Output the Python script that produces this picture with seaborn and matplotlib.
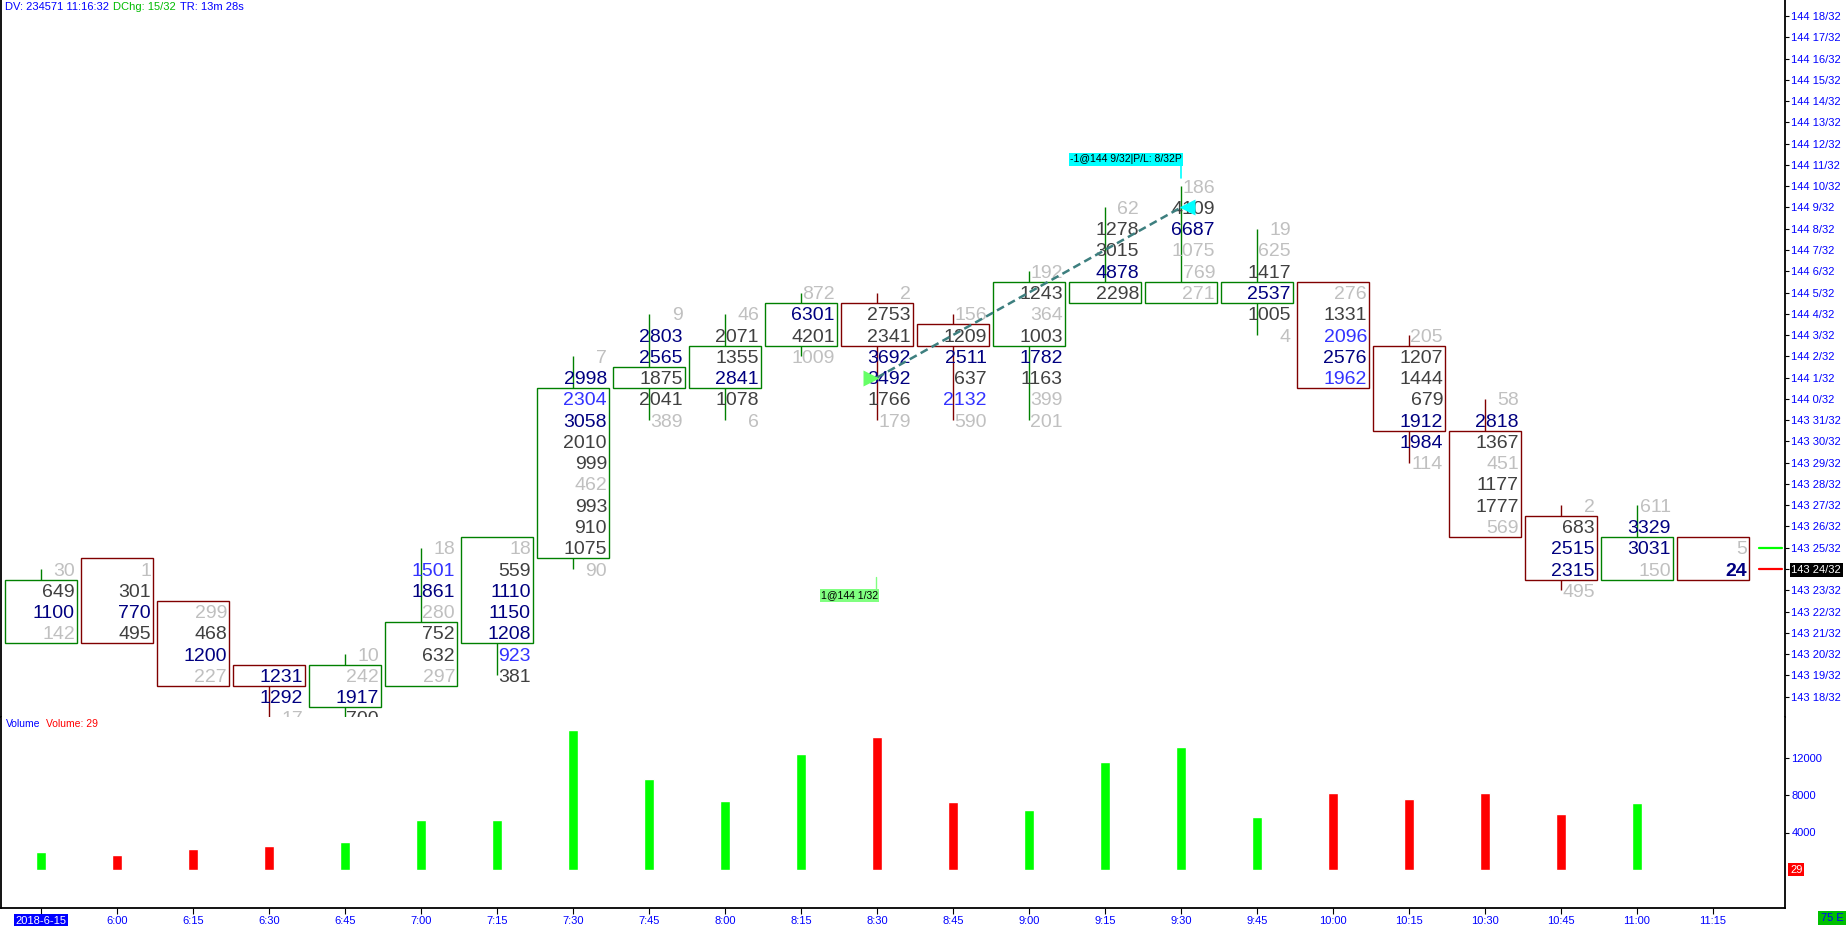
"""
Footprint (volume-at-price) chart, 15 minute bars, with volume pane below.
Saves out.png (1847x926).
"""

import numpy as np
import pandas as pd
import seaborn as sns
import matplotlib.pyplot as plt
import matplotlib.transforms as mtransforms
from matplotlib.patches import Rectangle

# -----------------
# Data
# -----------------
times = ["2018-6-15", "6:00", "6:15", "6:30", "6:45", "7:00", "7:15", "7:30",
         "7:45", "8:00", "8:15", "8:30", "8:45", "9:00", "9:15", "9:30",
         "9:45", "10:00", "10:15", "10:30", "10:45", "11:00", "11:15"]

# price rows in 1/32 ticks relative to 144 0/32
bar_high = [-8, -8, -10, -13, -12, -7, -7, 2, 4, 4, 5, 5, 4, 6, 9, 10, 8, 5, 3, 0, -5, -5, -7]
box_low = [-11, -11, -13, -13, -14, -13, -11, -7, 1, 1, 3, 3, 3, 3, 5, 5, 5, 1, -1, -6, -8, -8, -8]
box_high = [-9, -8, -10, -13, -13, -11, -7, 0, 1, 2, 4, 4, 3, 5, 5, 5, 5, 5, 2, -2, -6, -7, -7]
bar_up = [1, 0, 0, 0, 1, 1, 1, 1, 1, 1, 1, 0, 0, 1, 1, 1, 1, 0, 0, 0, 0, 1, 0]

# traded volume per price row, top row first
cells = [
    [30, 649, 1100, 142],
    [1, 301, 770, 495],
    [299, 468, 1200, 227],
    [1231, 1292, 17],
    [10, 242, 1917, 700],
    [18, 1501, 1861, 280, 752, 632, 297],
    [18, 559, 1110, 1150, 1208, 923, 381],
    [7, 2998, 2304, 3058, 2010, 999, 462, 993, 910, 1075, 90],
    [9, 2803, 2565, 1875, 2041, 389],
    [46, 2071, 1355, 2841, 1078, 6],
    [872, 6301, 4201, 1009],
    [2, 2753, 2341, 3692, 3492, 1766, 179],
    [156, 1209, 2511, 637, 2132, 590],
    [192, 1243, 364, 1003, 1782, 1163, 399, 201],
    [62, 1278, 3015, 4878, 2298],
    [186, 4109, 6687, 1075, 769, 271],
    [19, 625, 1417, 2537, 1005, 4],
    [276, 1331, 2096, 2576, 1962],
    [205, 1207, 1444, 679, 1912, 1984, 114],
    [58, 2818, 1367, 451, 1177, 1777, 569],
    [2, 683, 2515, 2315, 495],
    [611, 3329, 3031, 150],
    [5, 24],
]
# g = light grey, d = dark grey, n = navy, b = blue, N = navy bold (last trade)
tones = ["gdng", "gdnd", "gdng", "nng", "ggnd", "gbngddg", "gdnnnbd", "gnbnddgdddg",
         "gnnddg", "gddndg", "gndg", "gddnndg", "gdndbg", "gdgdndgg", "gddnd",
         "gdnggg", "ggdndg", "gdbnb", "gdddnng", "gndgddg", "gdnng", "gnng", "gN"]

volumes = [1921, 1567, 2194, 2540, 2960, 5341, 5349, 14906, 9682, 7397, 12383,
           14225, 7235, 6347, 11531, 13097, 5607, 8241, 7545, 8217, 6010, 7121, 29]

# trade: long entry / short exit
entry_bar, entry_row = 11, 1
exit_bar, exit_row = 15, 9
last_row, bid_row = -8, -7

# -----------------
# Layout (pixels)
# -----------------
W, H = 1847, 926
PX_L, PX_R = 1, 1785
PRICE_BOT, VOL_BOT = 717, 908
X0, STEP = 41, 76            # first bar centre, bar spacing
ROW_Y0, ROW = 16, 21.27      # y of 144 18/32, px per tick
VOL_ZERO, VOL_PX = 870, 37.5 / 4000

TONE = {"g": "#c0c0c0", "d": "#404040", "n": "#000080", "b": "#3333ff", "N": "#000080"}
BOX_UP, BOX_DN = "#008000", "#800000"
AXBLUE = "#0000ff"


def fx(px):
    return px / W


def fy(py):
    return 1 - py / H


def price_label(k):
    t = 144 * 32 + k
    return f"{t // 32} {t % 32}/32"


sns.set_theme(style="white")
plt.rcParams["font.family"] = ["Liberation Sans", "DejaVu Sans"]

fig = plt.figure(figsize=(W / 100, H / 100), dpi=100)
ax = fig.add_axes([fx(PX_L), fy(PRICE_BOT), (PX_R - PX_L) / W, PRICE_BOT / H])
axv = fig.add_axes([fx(PX_L), fy(VOL_BOT), (PX_R - PX_L) / W, (VOL_BOT - PRICE_BOT) / H])

xmin = -(X0 - PX_L) / STEP
xmax = xmin + (PX_R - PX_L) / STEP
ytop = 18 + ROW_Y0 / ROW
ybot = 18 - (PRICE_BOT - ROW_Y0) / ROW

# -----------------
# Footprint bars
# -----------------
half = 36 / STEP
txt_dx = 34 / STEP
for i in range(len(times)):
    col = BOX_UP if bar_up[i] else BOX_DN
    hi = bar_high[i]
    lo = hi - len(cells[i]) + 1
    ax.plot([i, i], [hi, lo], color=col, lw=1.0, zorder=1, solid_capstyle="butt")
    ax.add_patch(Rectangle((i - half, box_low[i] - 0.5), 2 * half,
                           box_high[i] - box_low[i] + 1, facecolor="white",
                           edgecolor=col, lw=1.0, zorder=2))
    for j, (v, t) in enumerate(zip(cells[i], tones[i])):
        ax.text(i + txt_dx, hi - j, f"{v}", ha="right", va="center_baseline",
                fontsize=14, color=TONE[t], fontweight="bold" if t == "N" else "normal",
                zorder=3, clip_on=True)

# trade line + markers
ax.plot([entry_bar, exit_bar], [entry_row, exit_row], color="#3d7f7f", lw=1.8,
        dashes=(3.2, 1.8), zorder=5)
tr_in = mtransforms.offset_copy(ax.transData, fig=fig, x=-6, y=0, units="dots")
tr_out = mtransforms.offset_copy(ax.transData, fig=fig, x=6, y=0, units="dots")
ax.plot([entry_bar], [entry_row], marker=">", ms=12, color="#66ff66", mec="none",
        transform=tr_in, zorder=6)
ax.plot([exit_bar], [exit_row], marker="<", ms=12, color="#00ffff", mec="none",
        transform=tr_out, zorder=6)

ax.annotate(f"1@{price_label(entry_row)}", xy=(entry_bar, entry_row),
            xytext=(1, -218), textcoords="offset pixels", ha="right", va="center",
            fontsize=7.5, color="black", zorder=7,
            bbox=dict(boxstyle="square,pad=0.12", facecolor="#80ff80", edgecolor="none"))
ax.plot([entry_bar - 1 / STEP] * 2,
        [entry_row - 199 / ROW, entry_row - 211 / ROW], color="#80ff80", lw=1, zorder=6)

ax.annotate(f"-1@{price_label(exit_row)}|P/L: 8/32P", xy=(exit_bar, exit_row),
            xytext=(1, 48), textcoords="offset pixels", ha="right", va="center",
            fontsize=7.5, color="black", zorder=7,
            bbox=dict(boxstyle="square,pad=0.12", facecolor="#00ffff", edgecolor="none"))
ax.plot([exit_bar] * 2, [exit_row + 29 / ROW, exit_row + 42 / ROW],
        color="#00ffff", lw=1.2, zorder=6)

# bid / last price markers at the axis
blend = mtransforms.blended_transform_factory(ax.transAxes, ax.transData)
ax.plot([0.9854, 0.9985], [bid_row, bid_row], color="#00ff00", lw=1.6, transform=blend)
ax.plot([0.9854, 0.9985], [last_row, last_row], color="#ff0000", lw=1.6, transform=blend)

ax.set_xlim(xmin, xmax)
ax.set_ylim(ybot, ytop)
ax.set_xticks([])
price_ticks = list(range(-14, 19))
ax.yaxis.tick_right()
ax.set_yticks(price_ticks)
ax.set_yticklabels([price_label(k) for k in price_ticks])
ax.tick_params(axis="y", right=True, left=False, labelright=True, labelleft=False,
               direction="out", length=3, width=0.8, color="black", pad=1.5,
               labelsize=8, labelcolor=AXBLUE)
for k, tick in zip(price_ticks, ax.yaxis.get_major_ticks()):
    if k == last_row:
        tick.label2.set_color("white")
        tick.label2.set_bbox(dict(boxstyle="square,pad=0.15", facecolor="black", edgecolor="none"))
for side in ["top", "bottom"]:
    ax.spines[side].set_visible(False)
for side in ["left", "right"]:
    ax.spines[side].set_color("black")
    ax.spines[side].set_linewidth(1.3)

# -----------------
# Volume pane
# -----------------
vol_df = pd.DataFrame({
    "idx": np.arange(len(times)),
    "volume": volumes,
    "dir": ["up" if u else "down" for u in bar_up],
})
sns.barplot(data=vol_df, x="idx", y="volume", hue="dir", palette={"up": "#00ff00", "down": "#ff0000"},
            native_scale=True, dodge=False, width=10 / STEP, saturation=1,
            errorbar=None, legend=False, ax=axv)
axv.set_xlabel("")
axv.set_ylabel("")
axv.set_xlim(xmin, xmax)
axv.set_ylim(-(VOL_BOT - VOL_ZERO) / VOL_PX, (VOL_ZERO - PRICE_BOT) / VOL_PX)
axv.yaxis.tick_right()
axv.set_yticks([4000, 8000, 12000])
axv.set_yticklabels(["4000", "8000", "12000"])
axv.tick_params(axis="y", right=True, left=False, labelright=True, labelleft=False,
                direction="out", length=3, width=0.8, color="black", pad=1.5,
                labelsize=8, labelcolor=AXBLUE)
axv.set_xticks(range(len(times)))
axv.set_xticklabels(times)
axv.tick_params(axis="x", bottom=True, direction="out", length=4, width=0.8,
                color="black", pad=1.5, labelsize=8, labelcolor=AXBLUE)
date_lbl = axv.get_xticklabels()[0]
date_lbl.set_color("white")
date_lbl.set_bbox(dict(boxstyle="square,pad=0.15", facecolor="#0000ff", edgecolor="none"))
axv.spines["top"].set_visible(False)
for side in ["left", "right", "bottom"]:
    axv.spines[side].set_color("black")
    axv.spines[side].set_linewidth(1.3)

axv.annotate(f"{volumes[-1]}", xy=(1.0, volumes[-1]), xycoords=("axes fraction", "data"),
             xytext=(5, 0), textcoords="offset pixels", ha="left", va="center",
             fontsize=8, color="white",
             bbox=dict(boxstyle="square,pad=0.15", facecolor="#ff0000", edgecolor="none"))

# -----------------
# Header / pane labels
# -----------------
renderer = fig.canvas.get_renderer()


def chain_text(x_px, y_px, pieces, gap=4, size=8):
    x = x_px
    for s, c in pieces:
        t = fig.text(fx(x), fy(y_px), s, color=c, ha="left", va="center", fontsize=size)
        x += t.get_window_extent(renderer=renderer).width + gap


chain_text(5, 7, [("DV: 234571 11:16:32", AXBLUE), ("DChg: 15/32", "#00bb00"),
                  ("TR: 13m 28s", AXBLUE)])
chain_text(6, 724, [("Volume", AXBLUE), (f"Volume: {volumes[-1]}", "#ff0000")], gap=6, size=7.5)

fig.text(fx(1832), fy(918), "75 E", color=AXBLUE, ha="center", va="center", fontsize=8,
         bbox=dict(boxstyle="square,pad=0.2", facecolor="#00c000", edgecolor="none"))

fig.savefig("out.png", dpi=100, facecolor="white")
